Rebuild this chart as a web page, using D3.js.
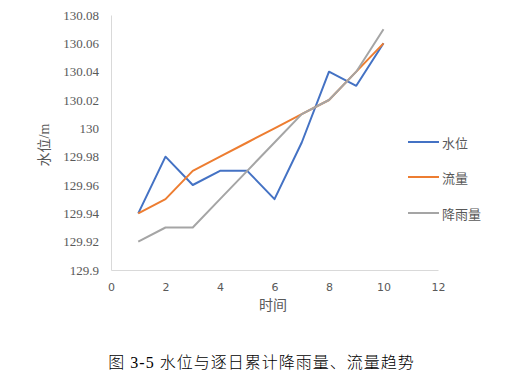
<!DOCTYPE html>
<html><head><meta charset="utf-8">
<script src="https://cdn.jsdelivr.net/npm/d3@7"></script>
<style>body{margin:0;background:#fff}</style>
</head><body>
<svg id="c" width="532" height="386"></svg>
<script>
const days = [1,2,3,4,5,6,7,8,9,10];
const waterLevel = [129.94,129.98,129.96,129.97,129.97,129.95,129.99,130.04,130.03,130.06];
const flow = [129.94,129.95,129.97,129.98,129.99,130.00,130.01,130.02,130.04,130.06];
const rainfall = [129.92,129.93,129.93,129.95,129.97,129.99,130.01,130.02,130.04,130.07];
const seriesNames = ["水位","流量","降雨量"];
const xTicks = [0,2,4,6,8,10,12];
const yTicks = [129.9,129.92,129.94,129.96,129.98,130,130.02,130.04,130.06,130.08];
const colors = ["#4472C4","#ED7D31","#A5A5A5"];

const svg = d3.select("#c");
const x = d3.scaleLinear().domain([0,12]).range([111,438]);
const y = d3.scaleLinear().domain([129.9,130.08]).range([270,15]);

// axes
const yAxis = d3.axisLeft(y).tickValues(yTicks).tickSize(0).tickPadding(12)
  .tickFormat(d => String(+d.toFixed(2)));
const gy = svg.append("g").attr("transform","translate(111,0)").call(yAxis);
gy.select(".domain").attr("stroke","#d9d9d9");
gy.selectAll("text").attr("font-family","Liberation Serif").attr("font-size",13).attr("fill","#595959");

const xAxis = d3.axisBottom(x).tickValues(xTicks).tickSize(0).tickPadding(13);
const gx = svg.append("g").attr("transform","translate(0,270)").call(xAxis);
gx.select(".domain").attr("stroke","#d9d9d9");
gx.selectAll("text").attr("font-family","DejaVu Sans").attr("font-size",11).attr("fill","#595959");

// lines
const series = [waterLevel, flow, rainfall];
const line = d3.line().x((d,i)=>x(days[i])).y(d=>y(d));
series.forEach((s,k)=>{
  svg.append("path").datum(s).attr("d",line).attr("fill","none")
    .attr("stroke",colors[k]).attr("stroke-width",2).attr("stroke-linejoin","round");
});

// axis titles
svg.append("text").attr("transform","translate(44,145) rotate(-90)")
  .attr("text-anchor","middle").attr("dominant-baseline","central")
  .attr("font-family","Liberation Serif, Noto Sans CJK SC").attr("font-size",14).attr("fill","#595959").text("水位/m");
svg.append("text").attr("x",273).attr("y",304).attr("text-anchor","middle").attr("dominant-baseline","central")
  .attr("font-family","Noto Sans CJK SC").attr("font-size",14).attr("fill","#595959").text("时间");

// legend
const legY = [142,177,213];
seriesNames.forEach((n,k)=>{
  svg.append("line").attr("x1",408).attr("x2",439).attr("y1",legY[k]).attr("y2",legY[k])
    .attr("stroke",colors[k]).attr("stroke-width",2);
  svg.append("text").attr("x",442).attr("y",legY[k]).attr("dominant-baseline","central")
    .attr("font-family","Noto Sans CJK SC").attr("font-size",13).attr("fill","#595959").text(n);
});

// caption
svg.append("text").attr("x",261.5).attr("y",362).attr("text-anchor","middle").attr("dominant-baseline","central")
  .attr("font-family","Liberation Serif, Noto Sans CJK SC").attr("font-size",16).attr("font-weight",300)
  .attr("letter-spacing",1).attr("fill","#000")
  .text("图 3-5 水位与逐日累计降雨量、流量趋势");
</script>
</body></html>
